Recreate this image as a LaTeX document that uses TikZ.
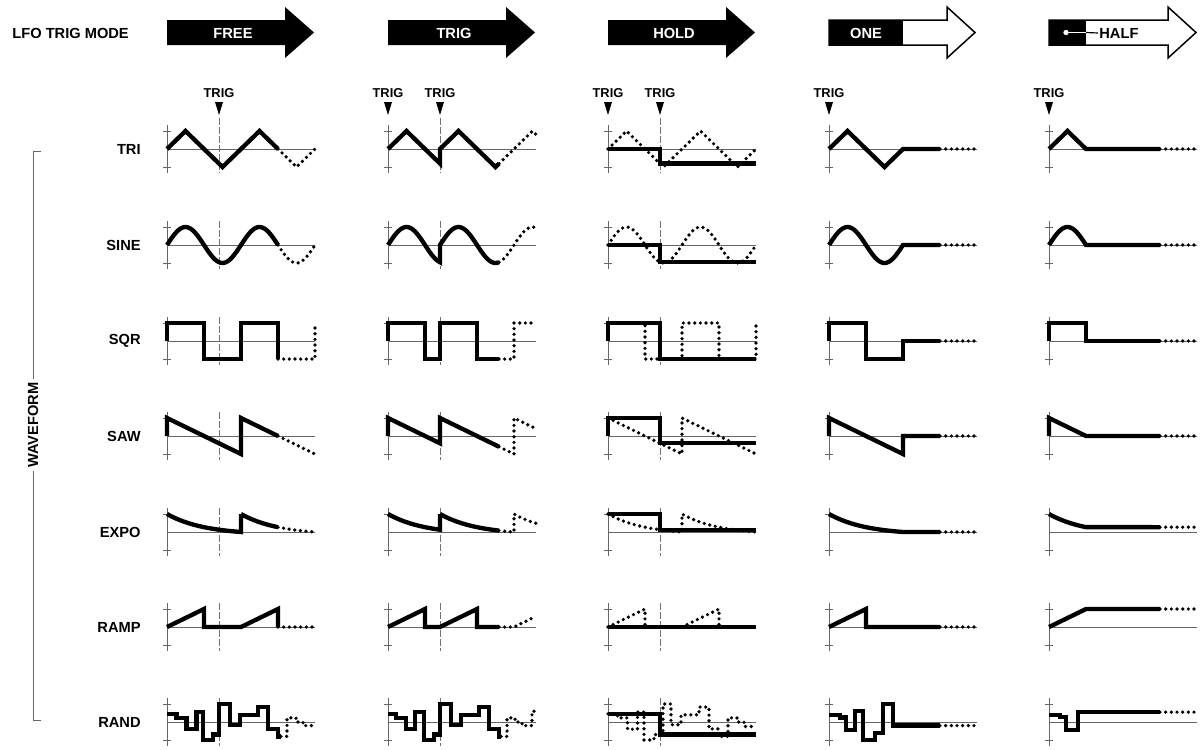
\documentclass[tikz,border=0pt]{standalone}
\usepackage{fontspec}
\setmainfont{Liberation Sans}
\tikzset{
  wave/.style={line width=0.13cm, line join=miter},
  ghost/.style={line width=0.11cm, line cap=round, dash pattern=on 0pt off 0.17cm},
  axisline/.style={black!60, line width=0.03cm},
  trigline/.style={black!55, line width=0.03cm, dash pattern=on 0.2cm off 0.07cm},
  lbl/.style={font=\bfseries\fontsize{12.5}{14}\selectfont, inner sep=1pt},
  triglbl/.style={font=\bfseries\fontsize{11}{12}\selectfont, inner sep=0pt},
  cell/.style 2 args={shift={(#1,-#2)}, yscale=18},
}
\begin{document}
\begin{tikzpicture}[x=0.03cm, y=0.03cm,
  declare function={sn(\t)=sin(4.86486*\t); ex(\t)=(exp(-\t/37)-0.1353)/0.8647;}]
\useasboundingbox (0,0) rectangle (1202,-749);

% header
\node[lbl, anchor=west] (mode) at (11,-33) {LFO TRIG MODE};
\fill (167,-20) -- (285,-20) -- (285,-7) -- (314,-32.5) -- (285,-58) -- (285,-45) -- (167,-45) -- cycle;
\node[lbl, white] (free) at (233,-33) {FREE};
\fill (388,-20) -- (506,-20) -- (506,-7) -- (535,-32.5) -- (506,-58) -- (506,-45) -- (388,-45) -- cycle;
\node[lbl, white] (trig) at (454,-33) {TRIG};
\fill (608,-20) -- (726,-20) -- (726,-7) -- (755,-32.5) -- (726,-58) -- (726,-45) -- (608,-45) -- cycle;
\node[lbl, white] (hold) at (674,-33) {HOLD};
\draw[line width=0.045cm, fill=white] (829,-20) -- (947,-20) -- (947,-7) -- (975,-32.5) -- (947,-58) -- (947,-45) -- (829,-45) -- cycle;
\fill (829,-20) rectangle (903,-45);
\node[lbl, white] (one) at (866,-33) {ONE};
\draw[line width=0.045cm, fill=white] (1049,-20) -- (1168,-20) -- (1168,-7) -- (1196,-32.5) -- (1168,-58) -- (1168,-45) -- (1049,-45) -- cycle;
\fill (1049,-20) rectangle (1086,-45);
\node[lbl, anchor=west] (half) at (1098,-33) {HALF};
\coordinate (halfdot) at (1066,-32.5);
\coordinate (halfedge) at (1086,-32.5);
\fill[white] (halfdot) circle (0.08cm);
\draw[white, line width=0.035cm] (halfdot) -- (halfedge);
\draw[line width=0.035cm] (halfedge) -- (half.west);

% row labels
\node[lbl, anchor=east] (tri) at (142,-149) {TRI};
\node[lbl, anchor=east] (sine) at (142,-245) {SINE};
\node[lbl, anchor=east] (sqr) at (142,-341) {SQR};
\node[lbl, anchor=east] (saw) at (142,-436) {SAW};
\node[lbl, anchor=east] (expo) at (142,-532) {EXPO};
\node[lbl, anchor=east] (ramp) at (142,-627) {RAMP};
\node[lbl, anchor=east] (rand) at (142,-722) {RAND};
\node[lbl, rotate=90, inner sep=3pt] (waveform) at (33,-425) {WAVEFORM};
\draw[axisline] (41,-151) -- (33,-151) -- (waveform.east);
\draw[axisline] (waveform.west) -- (33,-720) -- (41,-720);

% axes of every cell
\foreach \cx in {167,388,608,829,1049}
  \foreach \ry in {149,245,341,436,532,627,722}
  {
    \begin{scope}[cell={\cx}{\ry}]
      \draw[axisline] (0,-1.33) -- (0,1.33);
      \draw[axisline] (-4,1) -- (4,1) (-4,-1) -- (4,-1);
      \draw[axisline] (0,0) -- (148,0);
    \end{scope}
  }

% trig points
\foreach \tx in {219,440,660}
{
  \draw[trigline] (\tx,-118) -- (\tx,-173);
  \foreach \ry in {245,341,436,532,627,722}
    \draw[trigline] (\tx,-\ry+24) -- (\tx,-\ry-24);
}
\foreach \tx/\nm in {219/tgfree,388/tgtrigA,440/tgtrigB,608/tgholdA,660/tgholdB,829/tgone,1049/tghalf}
{
  \node[triglbl] (\nm) at (\tx,-93) {TRIG};
  \fill (\tx-4,-102) -- (\tx+4,-102) -- (\tx,-115) -- cycle;
}

% TRI
\begin{scope}[cell={167}{149}]
  \draw[wave] (0,0) -- (18.5,1) -- (55.5,-1) -- (92.5,1) -- (111,0);
  \draw[ghost] (111,0) -- (129.5,-1) -- (148,0);
\end{scope}
\begin{scope}[cell={388}{149}]
  \draw[wave] (0,0) -- (18.5,1) -- (52,-0.81) -- (52,0) -- (70.5,1) -- (107.5,-1) -- (111,-0.81);
  \draw[ghost] (111,-0.81) -- (126,0) -- (144.5,1) -- (148,0.81);
\end{scope}
\begin{scope}[cell={608}{149}]
  \draw[ghost] (0,0) -- (18.5,1) -- (55.5,-1) -- (92.5,1) -- (129.5,-1) -- (148,0);
  \draw[wave] (0,0) -- (52,0) -- (52,-0.81) -- (148,-0.81);
\end{scope}
\begin{scope}[cell={829}{149}]
  \draw[wave] (0,0) -- (18.5,1) -- (55.5,-1) -- (74,0) -- (111,0);
  \draw[ghost] (111,0) -- (148,0);
\end{scope}
\begin{scope}[cell={1049}{149}]
  \draw[wave] (0,0) -- (18.5,1) -- (37,0) -- (111,0);
  \draw[ghost] (111,0) -- (148,0);
\end{scope}

% SINE
\begin{scope}[cell={167}{245}]
  \draw[wave] plot[domain=0:111, samples=61] (\x,{sn(\x)});
  \draw[ghost] plot[domain=111:148, samples=21] (\x,{sn(\x)});
\end{scope}
\begin{scope}[cell={388}{245}]
  \draw[wave] plot[domain=0:52, samples=31] (\x,{sn(\x)}) -- (52,0) -- plot[domain=52:111, samples=31] (\x,{sn(\x-52)});
  \draw[ghost] plot[domain=111:148, samples=21] (\x,{sn(\x-52)});
\end{scope}
\begin{scope}[cell={608}{245}]
  \draw[ghost] plot[domain=0:148, samples=81] (\x,{sn(\x)});
  \draw[wave] (0,0) -- (52,0) -- (52,-0.956) -- (148,-0.956);
\end{scope}
\begin{scope}[cell={829}{245}]
  \draw[wave] plot[domain=0:74, samples=41] (\x,{sn(\x)}) -- (111,0);
  \draw[ghost] (111,0) -- (148,0);
\end{scope}
\begin{scope}[cell={1049}{245}]
  \draw[wave] plot[domain=0:37, samples=21] (\x,{sn(\x)}) -- (111,0);
  \draw[ghost] (111,0) -- (148,0);
\end{scope}

% SQR
\begin{scope}[cell={167}{341}]
  \draw[wave] (0,0) -- (0,1) -- (37,1) -- (37,-1) -- (74,-1) -- (74,1) -- (111,1) -- (111,-1);
  \draw[ghost] (111,-1) -- (148,-1) -- (148,1);
\end{scope}
\begin{scope}[cell={388}{341}]
  \draw[wave] (0,0) -- (0,1) -- (37,1) -- (37,-1) -- (52,-1) -- (52,1) -- (89,1) -- (89,-1) -- (111,-1);
  \draw[ghost] (111,-1) -- (126,-1) -- (126,1) -- (148,1);
\end{scope}
\begin{scope}[cell={608}{341}]
  \draw[ghost] (0,1) -- (37,1) -- (37,-1) -- (74,-1) -- (74,1) -- (111,1) -- (111,-1) -- (148,-1) -- (148,1);
  \draw[wave] (0,0) -- (0,1) -- (52,1) -- (52,-1) -- (148,-1);
\end{scope}
\begin{scope}[cell={829}{341}]
  \draw[wave] (0,0) -- (0,1) -- (37,1) -- (37,-1) -- (74,-1) -- (74,0) -- (111,0);
  \draw[ghost] (111,0) -- (148,0);
\end{scope}
\begin{scope}[cell={1049}{341}]
  \draw[wave] (0,0) -- (0,1) -- (37,1) -- (37,0) -- (111,0);
  \draw[ghost] (111,0) -- (148,0);
\end{scope}

% SAW
\begin{scope}[cell={167}{436}]
  \draw[wave] (0,0) -- (0,1) -- (74,-1) -- (74,1) -- (111,0);
  \draw[ghost] (111,0) -- (148,-1);
\end{scope}
\begin{scope}[cell={388}{436}]
  \draw[wave] (0,0) -- (0,1) -- (52,-0.405) -- (52,1) -- (111,-0.595);
  \draw[ghost] (111,-0.595) -- (126,-1) -- (126,1) -- (148,0.405);
\end{scope}
\begin{scope}[cell={608}{436}]
  \draw[ghost] (0,1) -- (74,-1) -- (74,1) -- (148,-1);
  \draw[wave] (0,0) -- (0,1) -- (52,1) -- (52,-0.405) -- (148,-0.405);
\end{scope}
\begin{scope}[cell={829}{436}]
  \draw[wave] (0,0) -- (0,1) -- (74,-1) -- (74,0) -- (111,0);
  \draw[ghost] (111,0) -- (148,0);
\end{scope}
\begin{scope}[cell={1049}{436}]
  \draw[wave] (0,0) -- (0,1) -- (37,0) -- (111,0);
  \draw[ghost] (111,0) -- (148,0);
\end{scope}

% EXPO
\begin{scope}[cell={167}{532}]
  \draw[wave] plot[domain=0:74, samples=31] (\x,{ex(\x)}) -- (74,1) -- plot[domain=74:111, samples=16] (\x,{ex(\x-74)});
  \draw[ghost] plot[domain=111:148, samples=16] (\x,{ex(\x-74)});
\end{scope}
\begin{scope}[cell={388}{532}]
  \draw[wave] plot[domain=0:52, samples=21] (\x,{ex(\x)}) -- (52,1) -- plot[domain=52:111, samples=25] (\x,{ex(\x-52)});
  \draw[ghost] plot[domain=111:126, samples=7] (\x,{ex(\x-52)}) -- (126,1) -- plot[domain=126:148, samples=9] (\x,{ex(\x-126)});
\end{scope}
\begin{scope}[cell={608}{532}]
  \draw[ghost] plot[domain=0:74, samples=31] (\x,{ex(\x)}) -- (74,1) -- plot[domain=74:148, samples=31] (\x,{ex(\x-74)});
  \draw[wave] (0,1) -- (52,1) -- (52,0.127) -- (148,0.127);
\end{scope}
\begin{scope}[cell={829}{532}]
  \draw[wave] plot[domain=0:74, samples=31] (\x,{ex(\x)}) -- (111,0);
  \draw[ghost] (111,0) -- (148,0);
\end{scope}
\begin{scope}[cell={1049}{532}]
  \draw[wave] plot[domain=0:37, samples=16] (\x,{ex(\x)}) -- (111,0.269);
  \draw[ghost] (111,0.269) -- (148,0.269);
\end{scope}

% RAMP
\begin{scope}[cell={167}{627}]
  \draw[wave] (0,0) -- (37,1) -- (37,0) -- (74,0) -- (111,1) -- (111,0);
  \draw[ghost] (111,0) -- (148,0);
\end{scope}
\begin{scope}[cell={388}{627}]
  \draw[wave] (0,0) -- (37,1) -- (37,0) -- (52,0) -- (89,1) -- (89,0) -- (111,0);
  \draw[ghost] (111,0) -- (126,0) -- (148,0.595);
\end{scope}
\begin{scope}[cell={608}{627}]
  \draw[ghost] (0,0) -- (37,1) -- (37,0);
  \draw[ghost] (74,0) -- (111,1) -- (111,0);
  \draw[wave] (0,0) -- (148,0);
\end{scope}
\begin{scope}[cell={829}{627}]
  \draw[wave] (0,0) -- (37,1) -- (37,0) -- (111,0);
  \draw[ghost] (111,0) -- (148,0);
\end{scope}
\begin{scope}[cell={1049}{627}]
  \draw[wave] (0,0) -- (37,1) -- (111,1);
  \draw[ghost] (111,1) -- (148,1);
\end{scope}

% RAND
\begin{scope}[cell={167}{722}]
  \draw[wave] (0,0.45) -| (9.5,0.23) -| (19.5,-0.4) -| (29.5,0.55) -| (36,-1) -| (46,-0.7) -| (52,1) -| (63,-0.15) -| (73,0.4) -| (91,0.83) -| (101,-0.38) -| (111,-0.8) -- (114,-0.8);
  \draw[ghost] (114,-0.8) -| (120,0.23) -| (129,0) -| (136,-0.2) -- (148,-0.2);
\end{scope}
\begin{scope}[cell={388}{722}]
  \draw[wave] (0,0.45) -| (8,0.23) -| (18,-0.4) -| (27,0.55) -| (36,-1) -| (46,-0.7) -| (52,1) -| (63,-0.15) -| (73,0.4) -| (91,0.83) -| (101,-0.38) -| (111,-0.8) -- (113,-0.8);
  \draw[ghost] (113,-0.8) -| (119,0.23) -| (127,0) -| (134,-0.2) -| (144,0.6) -- (147,0.6);
\end{scope}
\begin{scope}[cell={608}{722}]
  \draw[ghost] (0,0.45) -| (9.5,0.23) -| (19.5,-0.4) -| (29.5,0.55) -| (36,-1) -| (46,-0.7) -| (55,1) -| (63,-0.15) -| (73,0.4) -| (91,0.83) -| (101,-0.38) -| (111,-0.8) -| (120,0.23) -| (129,0) -| (136,-0.25) -- (148,-0.25);
  \draw[wave] (0,0.45) -- (52,0.45) -- (52,-0.7) -- (148,-0.7);
\end{scope}
\begin{scope}[cell={829}{722}]
  \draw[wave] (0,0.4) -| (10.7,0.25) -| (17.3,-0.45) -| (25.7,0.6) -| (34,-1) -| (45.7,-0.6) -| (54,1) -| (64,-0.2) -- (111,-0.2);
  \draw[ghost] (111,-0.2) -- (148,-0.2);
\end{scope}
\begin{scope}[cell={1049}{722}]
  \draw[wave] (0,0.4) -| (10.7,0.27) -| (17.3,-0.43) -| (29,0.55) -- (111,0.55);
  \draw[ghost] (111,0.55) -- (148,0.55);
\end{scope}
\end{tikzpicture}
\end{document}
